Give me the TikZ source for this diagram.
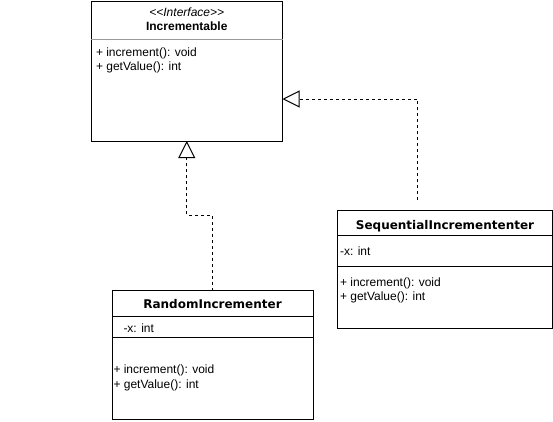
\documentclass[tikz,border=0pt]{standalone}
\usepackage{fontspec}
\setmainfont{Liberation Sans}
\newfontfamily\classfont{DejaVu Sans}
\usetikzlibrary{arrows.meta}

\tikzset{
  umlbox/.style={draw=black, line width=1pt, fill=white, rectangle,
    inner sep=0pt, outer sep=0pt, anchor=north west},
  sepline/.style={line width=1pt, draw=black},
  softsep/.style={line width=1pt, draw=black!40},
  txt/.style={inner sep=0pt, outer sep=0pt, anchor=base west,
    font=\fontsize{12pt}{14pt}\selectfont},
  ctxt/.style={txt, anchor=base},
  ctitle/.style={inner sep=0pt, outer sep=0pt, anchor=base,
    font=\fontsize{12pt}{14pt}\selectfont\classfont\bfseries},
  realize/.style={line width=1pt, dash pattern=on 3pt off 3pt,
    -{Triangle[open, length=17pt, width=17pt, line width=1pt]}},
}

\begin{document}
\begin{tikzpicture}[x=1pt, y=-1pt]
\useasboundingbox (0,0) rectangle (553,421);

% Interface
\node[umlbox, minimum width=191.5pt, minimum height=140pt] (iface) at (91,1) {};
\draw[softsep] (91,39.5) -- (282.5,39.5);
\node[ctxt] (ifstereo) at (186.75,16) {\itshape <\kern0pt<Interface>\kern0pt>};
\node[ctxt] (ifname) at (186.75,30) {\bfseries Incrementable};
\node[txt] (ifm1) at (96,56) {+ increment(): void};
\node[txt] (ifm2) at (96,70) {+ getValue(): int};

% RandomIncrementer
\node[umlbox, minimum width=201pt, minimum height=128.5pt] (rand) at (112,290.5) {};
\draw[sepline] (112,316.5) -- (313,316.5);
\draw[sepline] (112,337.5) -- (313,337.5);
\node[ctitle] (randname) at (212.5,308.5) {RandomIncrementer};
\node[txt] (randa1) at (123.5,332.5) {-x: int};
\node[txt] (randm1) at (113.5,373.5) {+ increment(): void};
\node[txt] (randm2) at (113.5,388) {+ getValue(): int};

% SequentialIncremententer
\node[umlbox, minimum width=214.5pt, minimum height=118pt] (seq) at (337.5,210) {};
\draw[sepline] (337.5,235) -- (552,235);
\draw[sepline] (337.5,266) -- (552,266);
\node[ctitle] (seqname) at (445,229.5) {SequentialIncremententer};
\node[txt] (seqa1) at (340,255) {-x: int};
\node[txt] (seqm1) at (340,286) {+ increment(): void};
\node[txt] (seqm2) at (340,300) {+ getValue(): int};

% Realization connectors
\draw[realize] (rand.north) -- ++(0,-75) -| (iface.south);
\draw[realize] ([xshift=-27pt, yshift=10pt]seq.north) |- ([yshift=-28pt]iface.east);
\end{tikzpicture}
\end{document}
